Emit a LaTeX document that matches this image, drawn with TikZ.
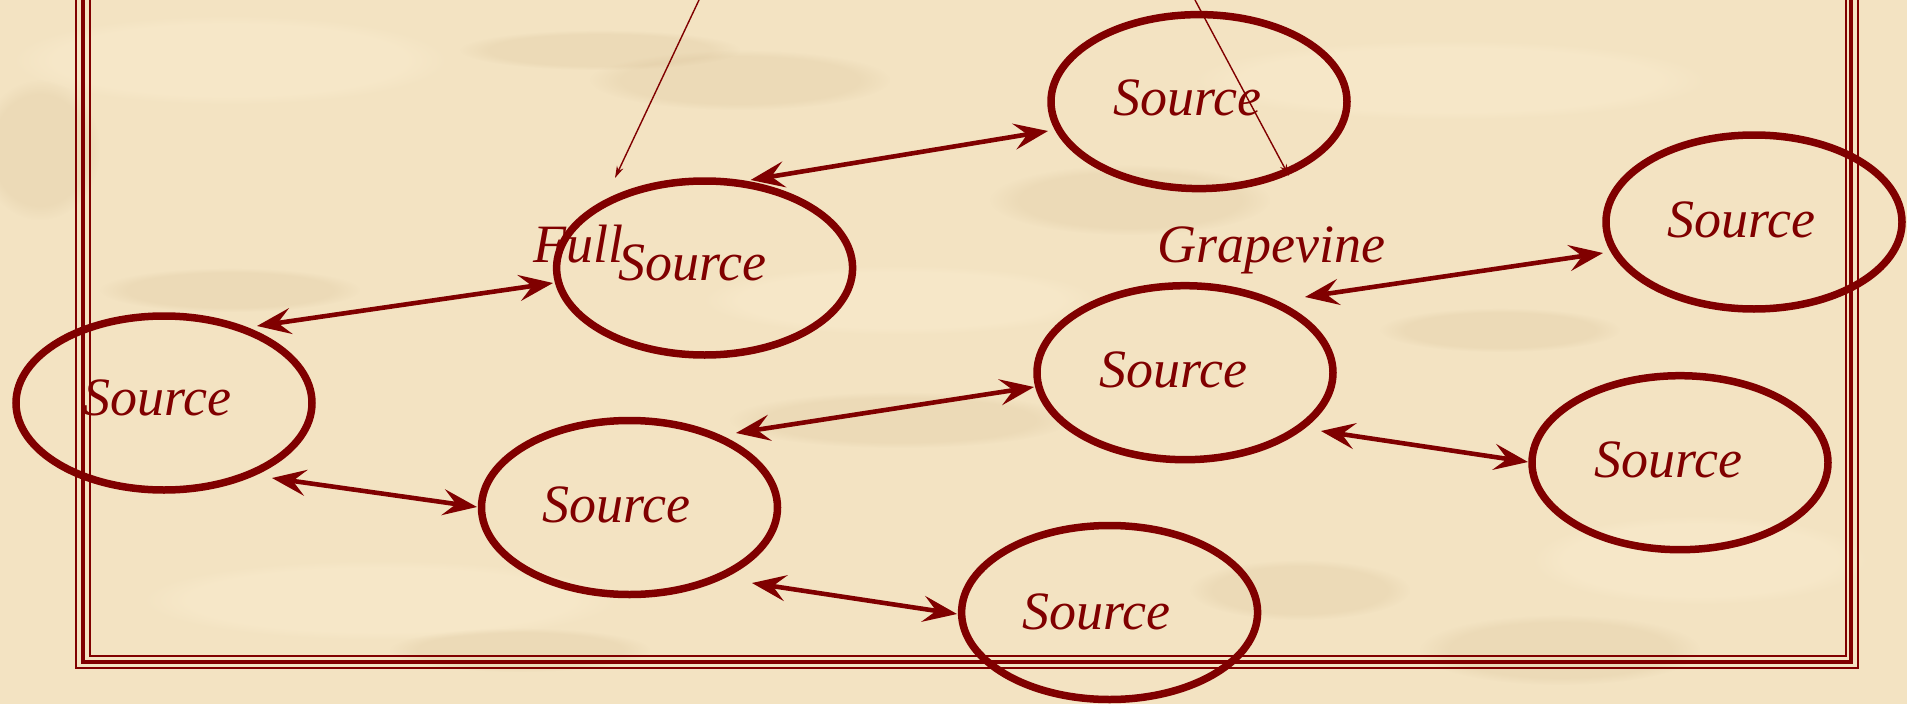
\documentclass[tikz,border=0pt]{standalone}
\usepackage{fontspec}
\setmainfont{Liberation Serif}
\usetikzlibrary{arrows.meta,shapes.geometric,calc,fadings}
\definecolor{maroon}{RGB}{128,0,0}
\definecolor{parch}{RGB}{243,227,194}
\definecolor{parchdark}{RGB}{214,190,148}
\definecolor{parchlight}{RGB}{251,237,208}
\begin{document}
\begin{tikzpicture}[x=1pt,y=-1pt,
  src/.style={ellipse, draw=maroon, line width=7.5pt, minimum width=296pt,
    minimum height=174pt, inner sep=0pt},
  srclabel/.style={anchor=base, inner sep=0pt, text=maroon,
    font=\fontsize{54}{60}\selectfont\itshape},
  link/.style={draw=maroon, line width=4.6pt,
    {Stealth[length=34pt,width=26pt,inset=13pt]}-{Stealth[length=34pt,width=26pt,inset=13pt]}},
  pointer/.style={draw=maroon, line width=1.4pt, -{Stealth[length=12pt,width=7pt]}},
  blot/.style={fill=parchdark, opacity=0.22, path fading=circle with fuzzy edge 20 percent},
  glow/.style={fill=parchlight, opacity=0.45, path fading=circle with fuzzy edge 20 percent}]

% page and parchment
\useasboundingbox (0,0) rectangle (1907,704);
\clip (0,0) rectangle (1907,704);
\fill[parch] (0,0) rectangle (1907,704);
\fill[glow] (230,60) ellipse (220 and 45);
\fill[glow] (1450,80) ellipse (260 and 40);
\fill[glow] (380,600) ellipse (240 and 40);
\fill[glow] (1700,560) ellipse (170 and 45);
\fill[glow] (900,300) ellipse (200 and 35);
\fill[blot] (740,80) ellipse (150 and 30);
\fill[blot] (600,50) ellipse (140 and 20);
\fill[blot] (230,290) ellipse (130 and 22);
\fill[blot] (1130,200) ellipse (140 and 35);
\fill[blot] (1560,650) ellipse (140 and 35);
\fill[blot] (1300,590) ellipse (110 and 30);
\fill[blot] (520,650) ellipse (130 and 22);
\fill[blot] (900,420) ellipse (170 and 28);
\fill[blot] (1500,330) ellipse (120 and 22);
\fill[blot] (40,150) ellipse (60 and 70);

% triple border
\draw[maroon, line width=2pt] (76,-40) rectangle (1858,668);
\draw[maroon, line width=4.5pt] (83,-40) rectangle (1851,662);
\draw[maroon, line width=2pt] (89.5,-40) rectangle (1845.5,656);

% sources
\node[src] (s1) at (1199,101.6) {};
\node[src] (s2) at (704.6,268) {};
\node[src] (s3) at (164,403) {};
\node[src] (s4) at (629.5,507.5) {};
\node[src] (s5) at (1109.6,612.5) {};
\node[src] (s6) at (1185,372.7) {};
\node[src] (s7) at (1754,222) {};
\node[src] (s8) at (1680,462.7) {};

\node[srclabel] (l1) at ($(s1.center)+(-12,14)$) {Source};
\node[srclabel] (l2) at ($(s2.center)+(-12,12)$) {Source};
\node[srclabel] (l3) at ($(s3.center)+(-7,12)$) {Source};
\node[srclabel] (l4) at ($(s4.center)+(-13,14.5)$) {Source};
\node[srclabel] (l5) at ($(s5.center)+(-13,17)$) {Source};
\node[srclabel] (l6) at ($(s6.center)+(-12,15)$) {Source};
\node[srclabel] (l7) at ($(s7.center)+(-13,15)$) {Source};
\node[srclabel] (l8) at ($(s8.center)+(-12,15)$) {Source};

\node[srclabel, anchor=base west] (full) at (533,262) {Full};
\node[srclabel, anchor=base west] (grape) at (1157,262) {Grapevine};

% two-way links, ends placed relative to each source
\draw[link] ($(s2.center)+(46,-88)$) -- ($(s1.center)+(-151,29.4)$);
\draw[link] ($(s3.center)+(93,-77)$) -- ($(s2.center)+(-151.6,15)$);
\draw[link] ($(s6.center)+(120,-75.7)$) -- ($(s7.center)+(-151,31)$);
\draw[link] ($(s4.center)+(106.5,-74.5)$) -- ($(s6.center)+(-151,14.3)$);
\draw[link] ($(s3.center)+(108,75)$) -- ($(s4.center)+(-152.5,-0.5)$);
\draw[link] ($(s6.center)+(136,58.3)$) -- ($(s8.center)+(-152,-0.7)$);
\draw[link] ($(s4.center)+(122.5,75.5)$) -- ($(s5.center)+(-152.6,1.5)$);

% pointers entering from above
\coordinate (p1) at (699,0);
\coordinate (q1) at (615,178);
\coordinate (p2) at (1195,0);
\coordinate (q2) at (1289,176);
\draw[pointer] (p1) -- (q1);
\draw[pointer] (p2) -- (q2);
\end{tikzpicture}
\end{document}
